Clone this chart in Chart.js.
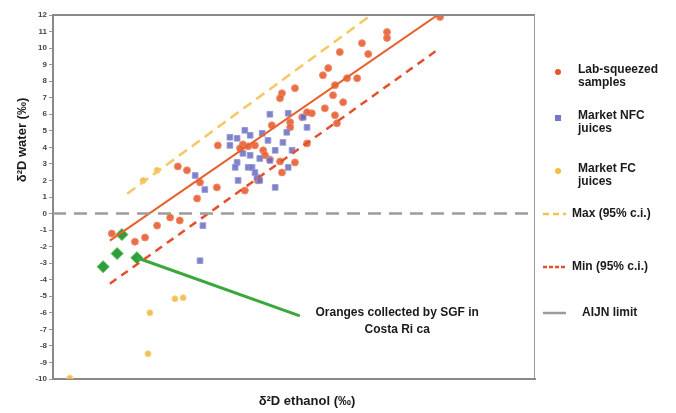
<!DOCTYPE html>
<html>
<head>
<meta charset="utf-8">
<script src="https://cdn.jsdelivr.net/npm/chart.js@4.4.1/dist/chart.umd.min.js"></script>
<style>
    html, body { margin: 0; background: #fff; }
    #wrap { width: 676px; height: 413px; }
</style>
</head>
<body>
<div id="wrap"><canvas id="chart"></canvas></div>
<script>
// values (x axis has no labels, so x is in arbitrary 0-100 units)
const labX = [80.3, 69.3, 69.3, 64.1, 59.5, 65.4, 57.1, 56.0, 61.0, 63.1, 58.5, 50.2, 47.5, 47.1, 58.1, 60.2,
    56.4, 53.7, 58.5, 51.7, 49.2, 49.2, 45.4, 58.9, 52.7, 52.7, 39.4, 41.9, 34.2, 40.5, 38.8, 43.6, 44.0,
    45.0, 47.1, 50.2, 25.9, 27.8, 47.5, 42.5, 34.0, 39.8, 29.9, 30.5, 24.3, 26.3, 21.6, 19.1, 17.0, 12.2];
const labY = [11.88, 10.97, 10.61, 10.30, 9.76, 9.64, 8.79, 8.36, 8.18, 8.18, 7.76, 7.58, 7.27, 6.97, 7.15, 6.73,
    6.36, 6.06, 5.94, 5.82, 5.52, 5.21, 5.33, 5.45, 4.24, 6.12, 4.18, 4.12, 4.12, 4.06, 3.94, 3.82, 3.52,
    3.27, 3.15, 3.09, 2.85, 2.61, 2.48, 2.00, 1.58, 1.39, 0.91, 1.88, -0.24, -0.42, -0.73, -1.45, -1.70, -1.21];

const nfcX = [45.0, 48.8, 51.9, 52.7, 48.5, 36.7, 38.2, 40.9, 44.6, 47.7, 36.7, 39.4, 40.9, 38.2, 42.9, 45.0,
    37.8, 40.5, 41.3, 42.3, 42.9, 48.8, 38.4, 46.1, 31.5, 29.5, 31.1, 30.5, 39.8, 43.4, 46.1, 41.9, 49.6];
const nfcY = [6.00, 6.06, 5.82, 5.21, 4.91, 4.61, 4.55, 4.73, 4.42, 4.30, 4.12, 3.64, 3.52, 3.09, 3.33, 3.21,
    2.79, 2.79, 2.79, 2.18, 2.00, 2.79, 2.00, 1.58, 1.45, 2.30, -0.73, -2.85, 5.03, 4.85, 3.82, 2.48, 3.82];

const fcX = [18.7, 21.6, 25.3, 27.0, 20.1, 19.7, 3.5];
const fcY = [2.0, 2.61, -5.15, -5.09, -6.0, -8.48, -9.95];

const costaX = [14.3, 13.3, 10.4, 17.4];
const costaY = [-1.27, -2.42, -3.21, -2.67];

// regression line and 95% confidence limits (end points)
const fitX = [11.8, 80.3];
const fitY = [-1.64, 12.1];
const maxX = [15.4, 66.0];
const maxY = [1.2, 12.0];
const minX = [11.8, 80.3];
const minY = [-4.24, 10.0];
const aijnX = [0, 100];
const aijnY = [0, 0];
const arrowX = [17.4, 51.2];
const arrowY = [-2.67, -6.18];

const noteLines = ['Oranges collected by SGF in', 'Costa Ri ca'];
const noteAt = { x: 71.4, y: -6.0 };

const legendItems = [
    { lines: ['Lab-squeezed', 'samples'], kind: 'circle', color: '#e4572e' },
    { lines: ['Market NFC', 'juices'], kind: 'rect', color: '#7577c4' },
    { lines: ['Market FC', 'juices'], kind: 'circle', color: '#f4bc46' },
    { lines: ['Max (95% c.i.)'], kind: 'line', color: '#f5c24a', dash: [6, 4] },
    { lines: ['Min (95% c.i.)'], kind: 'line', color: '#e4502e', dash: [4, 2] },
    { lines: ['AIJN limit'], kind: 'line', color: '#a09a98', dash: [] },
];

function pts(xs, ys) {
    return xs.map((x, i) => ({ x: x, y: ys[i] }));
}

function lineSet(label, xs, ys, color, dash, width) {
    return {
        type: 'line',
        label: label,
        data: pts(xs, ys),
        borderColor: color,
        borderWidth: width,
        borderDash: dash,
        pointRadius: 0,
        fill: false,
        tension: 0,
    };
}

const FONT = '"Liberation Sans", Arial, sans-serif';

const decor = {
    id: 'decor',
    afterDraw(chart) {
        const { ctx, chartArea: a, scales: { x, y } } = chart;
        ctx.save();
        // top and right frame
        ctx.strokeStyle = '#8c8886';
        ctx.lineWidth = 2;
        ctx.beginPath();
        ctx.moveTo(a.left, a.top);
        ctx.lineTo(a.right, a.top);
        ctx.stroke();
        ctx.lineWidth = 1;
        ctx.strokeStyle = '#9a9694';
        ctx.beginPath();
        ctx.moveTo(a.right - 0.5, a.top);
        ctx.lineTo(a.right - 0.5, a.bottom);
        ctx.stroke();

        // axis titles
        ctx.fillStyle = '#1a1a1a';
        ctx.font = 'bold 13px ' + FONT;
        ctx.textAlign = 'center';
        ctx.textBaseline = 'middle';
        ctx.fillText('δ²D ethanol (‰)', 307, 401);
        ctx.save();
        ctx.translate(22, 140);
        ctx.rotate(-Math.PI / 2);
        ctx.fillText('δ²D water (‰)', 0, 0);
        ctx.restore();

        // note for the green points
        ctx.font = 'bold 12px ' + FONT;
        const nx = x.getPixelForValue(noteAt.x);
        const ny = y.getPixelForValue(noteAt.y);
        noteLines.forEach((t, i) => ctx.fillText(t, nx, ny + i * 17));

        // legend
        ctx.textAlign = 'left';
        ctx.font = 'bold 12px ' + FONT;
        const rows = [70, 116, 169, 214, 267, 313];
        legendItems.forEach((it, i) => {
            const cy = rows[i];
            let tx = 578;
            if (it.kind === 'circle') {
                ctx.fillStyle = it.color;
                ctx.beginPath();
                ctx.arc(558, cy + 2, 3, 0, Math.PI * 2);
                ctx.fill();
            } else if (it.kind === 'rect') {
                ctx.fillStyle = it.color;
                ctx.fillRect(555, cy - 1, 6, 6);
            } else {
                ctx.strokeStyle = it.color;
                ctx.lineWidth = 2.5;
                ctx.setLineDash(it.dash);
                ctx.beginPath();
                ctx.moveTo(543, cy);
                ctx.lineTo(566, cy);
                ctx.stroke();
                ctx.setLineDash([]);
                tx = i === 5 ? 582 : 572;
            }
            ctx.fillStyle = '#1a1a1a';
            it.lines.forEach((t, j) => ctx.fillText(t, tx, cy + j * 12.5));
        });
        ctx.restore();
    },
};

new Chart(document.getElementById('chart'), {
    type: 'scatter',
    data: {
        datasets: [
            lineSet('AIJN limit', aijnX, aijnY, '#a09a98', [13, 8], 2.5),
            lineSet('Max (95% c.i.)', maxX, maxY, '#f5c863', [10, 6], 2.5),
            lineSet('Min (95% c.i.)', minX, minY, '#e4502e', [8, 6], 2.5),
            lineSet('Fit', fitX, fitY, '#e8602c', [], 2),
            lineSet('Costa Rica', arrowX, arrowY, '#3aa83a', [], 3),
            {
                label: 'Market NFC juices',
                data: pts(nfcX, nfcY),
                pointStyle: 'rect',
                pointRadius: 4,
                backgroundColor: 'rgba(105,108,190,0.85)',
                borderColor: 'rgba(150,150,215,0.9)',
                borderWidth: 1,
            },
            {
                label: 'Lab-squeezed samples',
                data: pts(labX, labY),
                pointStyle: 'circle',
                pointRadius: 3.5,
                backgroundColor: 'rgba(228,84,40,0.85)',
                borderColor: 'rgba(240,140,100,0.9)',
                borderWidth: 1,
            },
            {
                label: 'Market FC juices',
                data: pts(fcX, fcY),
                pointStyle: 'circle',
                pointRadius: 3,
                backgroundColor: 'rgba(240,185,70,0.9)',
                borderColor: 'rgba(245,210,130,0.9)',
                borderWidth: 1,
            },
            {
                label: 'Oranges collected by SGF in Costa Rica',
                data: pts(costaX, costaY),
                pointStyle: 'rectRot',
                pointRadius: 6,
                backgroundColor: '#2e9e3a',
                borderColor: '#55bb55',
                borderWidth: 1,
            },
        ],
    },
    options: {
        responsive: true,
        maintainAspectRatio: false,
        animation: false,
        layout: { padding: { top: 15, right: 141, left: 0, bottom: 0 } },
        plugins: {
            legend: { display: false },
            tooltip: { enabled: false },
        },
        scales: {
            x: {
                type: 'linear',
                min: 0,
                max: 100,
                ticks: { display: false },
                grid: { display: false },
                border: { display: true, color: '#8c8886', width: 2 },
                afterFit: (s) => { s.height = 34; },
            },
            y: {
                min: -10,
                max: 12,
                ticks: {
                    stepSize: 1,
                    padding: 2,
                    color: '#444',
                    font: { size: 8, weight: 'bold', family: FONT },
                },
                grid: { drawOnChartArea: false, tickLength: 4, color: '#999' },
                border: { display: true, color: '#8c8886', width: 2 },
                afterFit: (s) => { s.width = 53; },
            },
        },
    },
    plugins: [decor],
});
</script>
</body>
</html>
